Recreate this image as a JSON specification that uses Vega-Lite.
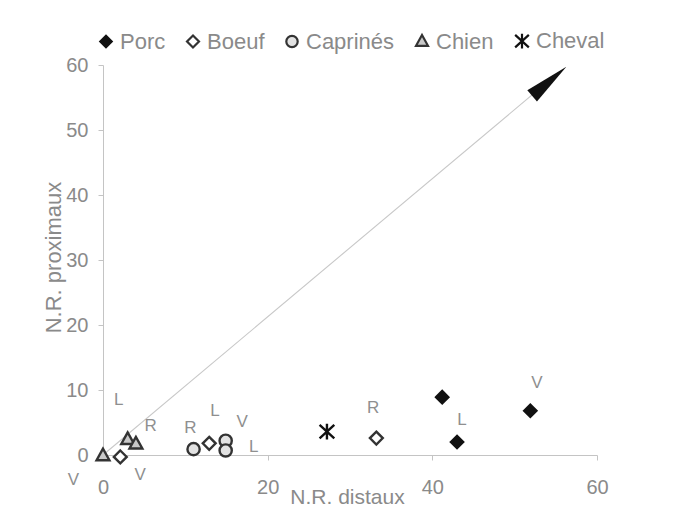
{
  "$schema": "https://vega.github.io/schema/vega-lite/v6.json",
  "autosize": {"type": "none"},
  "width": 494,
  "height": 390,
  "padding": {"left": 103, "top": 65, "right": 80, "bottom": 52},
  "background": "white",
  "config": {
    "font": "Liberation Sans",
    "view": {"stroke": null}
  },
  "encoding": {
    "x": {
      "field": "x", "type": "quantitative",
      "scale": {"domain": [0, 60], "nice": false, "zero": false},
      "axis": {
        "title": "N.R. distaux", "values": [0, 20, 40, 60], "grid": false,
        "domainColor": "#c4c4c4", "tickColor": "#c4c4c4", "tickSize": 5,
        "labelFontSize": 20, "labelColor": "#8a8a8a", "labelPadding": 17, "labelFlush": false,
        "titleFontSize": 21, "titleFontWeight": "normal", "titleColor": "#8a8a8a",
        "titleX": 244, "titleY": 48, "titleBaseline": "alphabetic"
      }
    },
    "y": {
      "field": "y", "type": "quantitative",
      "scale": {"domain": [0, 60], "nice": false, "zero": false},
      "axis": {
        "title": "N.R. proximaux", "values": [0, 10, 20, 30, 40, 50, 60], "grid": false,
        "domainColor": "#c4c4c4", "tickColor": "#c4c4c4", "tickSize": 5,
        "labelFontSize": 20, "labelColor": "#8a8a8a", "labelPadding": 10, "labelFlush": false,
        "titleFontSize": 22, "titleFontWeight": "normal", "titleColor": "#8a8a8a",
        "titleAngle": -90, "titleX": -43, "titleY": 192, "titleBaseline": "alphabetic"
      }
    }
  },
  "layer": [
    {
      "data": {"values": [{"x": 0, "y": 0, "x2": 55.5, "y2": 59}]},
      "mark": {"type": "rule", "color": "#c8c8c8", "strokeWidth": 1.1},
      "encoding": {"x2": {"field": "x2"}, "y2": {"field": "y2"}}
    },
    {
      "data": {"values": [{"x": 54.2, "y": 57.5}]},
      "mark": {"type": "point", "shape": "M0,-1L-0.33,1L0.33,1Z", "size": 2025, "angle": 49.5, "filled": true, "color": "#111", "opacity": 1}
    },
    {
      "data": {"values": [
        {"espece": "Porc", "x": 41.2, "y": 8.9},
        {"espece": "Porc", "x": 43.0, "y": 2.0},
        {"espece": "Porc", "x": 51.9, "y": 6.8},
        {"espece": "Boeuf", "x": 2.1, "y": -0.3},
        {"espece": "Boeuf", "x": 12.9, "y": 1.8},
        {"espece": "Boeuf", "x": 33.2, "y": 2.6},
        {"espece": "Caprinés", "x": 11.0, "y": 0.9},
        {"espece": "Caprinés", "x": 14.9, "y": 2.2},
        {"espece": "Caprinés", "x": 14.9, "y": 0.7},
        {"espece": "Chien", "x": 0, "y": -0.1},
        {"espece": "Chien", "x": 3.0, "y": 2.4},
        {"espece": "Chien", "x": 4.0, "y": 1.7},
        {"espece": "Cheval", "x": 27.2, "y": 3.6}
      ]},
      "mark": {"type": "point", "strokeWidth": 2.4, "opacity": 1, "size": 150},
      "encoding": {
        "shape": {
          "field": "espece", "type": "nominal",
          "scale": {
            "domain": ["Porc", "Boeuf", "Caprinés", "Chien", "Cheval"],
            "range": ["diamond", "M0,-1.05L1.05,0L0,1.05L-1.05,0Z", "circle", "M0,-1.15L-1.05,0.75L1.05,0.75Z", "M-1.2,-1.1L1.2,1.1M-1.2,1.1L1.2,-1.1M0,-1.3L0,1.3"]
          },
          "legend": {
            "orient": "none", "legendX": -8, "legendY": -35, "direction": "horizontal", "title": null,
            "labelFontSize": 22, "labelColor": "#8a8a8a", "labelOffset": 3, "columnPadding": 16,
            "symbolSize": 130, "symbolStrokeWidth": 2.2, "padding": 0
          }
        },
        "fill": {
          "field": "espece", "type": "nominal",
          "scale": {
            "domain": ["Porc", "Boeuf", "Caprinés", "Chien", "Cheval"],
            "range": ["#111111", "#ffffff", "#e2e2e2", "#c8c8c8", "#111111"]
          }
        },
        "stroke": {
          "field": "espece", "type": "nominal",
          "scale": {
            "domain": ["Porc", "Boeuf", "Caprinés", "Chien", "Cheval"],
            "range": ["#111111", "#333333", "#333333", "#333333", "#111111"]
          }
        }
      }
    },
    {
      "data": {"values": [
        {"lettre": "L", "x": 1.9, "y": 8.4},
        {"lettre": "R", "x": 5.8, "y": 4.5},
        {"lettre": "R", "x": 10.6, "y": 4.1},
        {"lettre": "L", "x": 13.6, "y": 6.7},
        {"lettre": "V", "x": 16.9, "y": 5.1},
        {"lettre": "L", "x": 18.3, "y": 1.2},
        {"lettre": "V", "x": -3.6, "y": -3.9},
        {"lettre": "V", "x": 4.5, "y": -3.1},
        {"lettre": "R", "x": 32.8, "y": 7.3},
        {"lettre": "L", "x": 43.6, "y": 5.4},
        {"lettre": "V", "x": 52.7, "y": 11.1}
      ]},
      "mark": {"type": "text", "fontSize": 17, "color": "#8f8f8f", "baseline": "middle", "align": "center"},
      "encoding": {"text": {"field": "lettre"}}
    }
  ]
}
